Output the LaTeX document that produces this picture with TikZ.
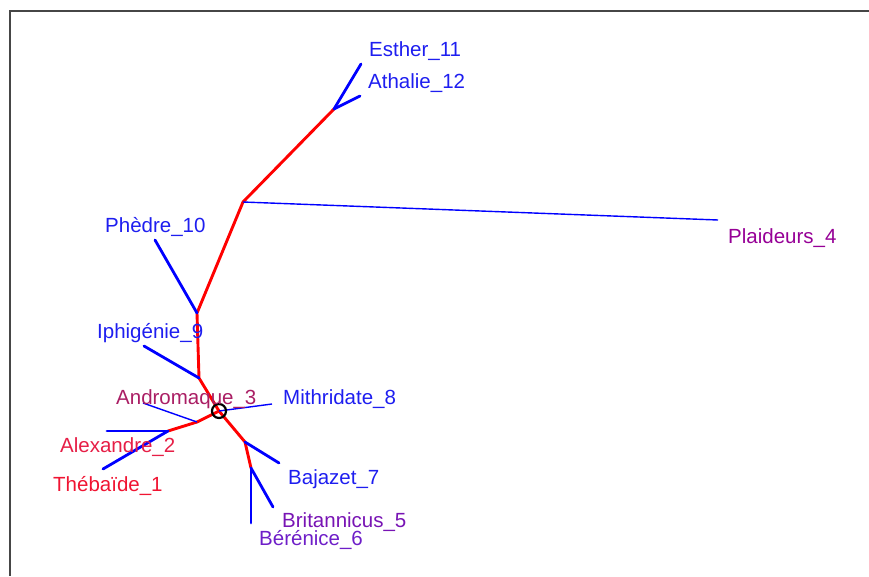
\documentclass[tikz,border=0pt]{standalone}
\usepackage{fontspec}
\setmainfont{Liberation Sans}
\begin{document}
\begin{tikzpicture}[x=1pt,y=-1pt,
  redline/.style={draw={rgb,255:red,255;green,0;blue,0},line width=2.9pt,line join=round},
  blueline/.style={draw={rgb,255:red,0;green,0;blue,255},line width=2.8pt,line cap=round},
  thinblue/.style={draw={rgb,255:red,0;green,0;blue,255},line width=1.4pt},
  lab/.style={anchor=west,inner sep=0pt,font=\fontsize{20.5}{22}\selectfont},
  cblue/.style={text={rgb,255:red,30;green,30;blue,240}},
  cplaid/.style={text={rgb,255:red,150;green,0;blue,150}},
  candro/.style={text={rgb,255:red,170;green,30;blue,100}},
  calex/.style={text={rgb,255:red,230;green,30;blue,70}},
  cthe/.style={text={rgb,255:red,240;green,20;blue,50}},
  cbrit/.style={text={rgb,255:red,120;green,20;blue,180}},
  cbere/.style={text={rgb,255:red,110;green,30;blue,200}}]
\useasboundingbox (0,0) rectangle (869,576);
% frame
\coordinate (ftr) at (869,11);
\coordinate (ftl) at (9.5,11);
\coordinate (fbl) at (9.5,576);
\draw[line width=2pt,draw={rgb,255:red,70;green,70;blue,70}] (ftr) -- (ftl) -- (fbl);
% junctions
\coordinate (c) at (219,411);
\coordinate (j9) at (199,378);
\coordinate (j10) at (197,313);
\coordinate (j4) at (243,202);
\coordinate (j11) at (334,109);
\coordinate (j7) at (245,442);
\coordinate (j5) at (251,468);
\coordinate (j3) at (197,422);
\coordinate (j2) at (168,431);
% leaf ends
\coordinate (e11) at (361,64);
\coordinate (e12) at (360,96);
\coordinate (e10) at (155,240);
\coordinate (e9) at (144,346);
\coordinate (e4) at (718,220);
\coordinate (e8) at (272,404);
\coordinate (e3) at (143,403);
\coordinate (e2) at (107,431);
\coordinate (e1) at (103,469);
\coordinate (e7) at (279,463);
\coordinate (e5) at (273,507);
\coordinate (e6) at (251,523);
% red internal edges
\draw[redline] (c) -- (j9) -- (j10) -- (j4) -- (j11);
\draw[redline] (c) -- (j7) -- (j5);
\draw[redline] (c) -- (j3) -- (j2);
% blue leaves
\draw[blueline] (j11) -- (e11);
\draw[blueline] (j11) -- (e12);
\draw[blueline] (j10) -- (e10);
\draw[blueline] (j9) -- (e9);
\draw[blueline] (j2) -- (e2);
\draw[blueline] (j2) -- (e1);
\draw[blueline] (j7) -- (e7);
\draw[blueline] (j5) -- (e5);
\draw[blueline] (j5) -- (e6);
\draw[thinblue] (j4) -- (e4);
\draw[thinblue] (c) -- (e8);
\draw[thinblue] (j3) -- (e3);
% root marker
\node[draw=black,line width=2.2pt,circle,minimum size=14pt,inner sep=0pt] (root) at (c) {};
% labels
\node[lab,cblue] (l11) at (369,51) {Esther\_11};
\node[lab,cblue] (l12) at (368,83) {Athalie\_12};
\node[lab,cblue] (l10) at (105,227) {Phèdre\_10};
\node[lab,cplaid] (l4) at (728,238) {Plaideurs\_4};
\node[lab,cblue] (l9) at (97,333) {Iphigénie\_9};
\node[lab,candro] (l3) at (116,399) {Andromaque\_3};
\node[lab,cblue] (l8) at (283,399) {Mithridate\_8};
\node[lab,calex] (l2) at (60,447) {Alexandre\_2};
\node[lab,cthe] (l1) at (53,486) {Thébaïde\_1};
\node[lab,cblue] (l7) at (288,479) {Bajazet\_7};
\node[lab,cbrit] (l5) at (282,522) {Britannicus\_5};
\node[lab,cbere] (l6) at (259,540) {Bérénice\_6};
\end{tikzpicture}
\end{document}
